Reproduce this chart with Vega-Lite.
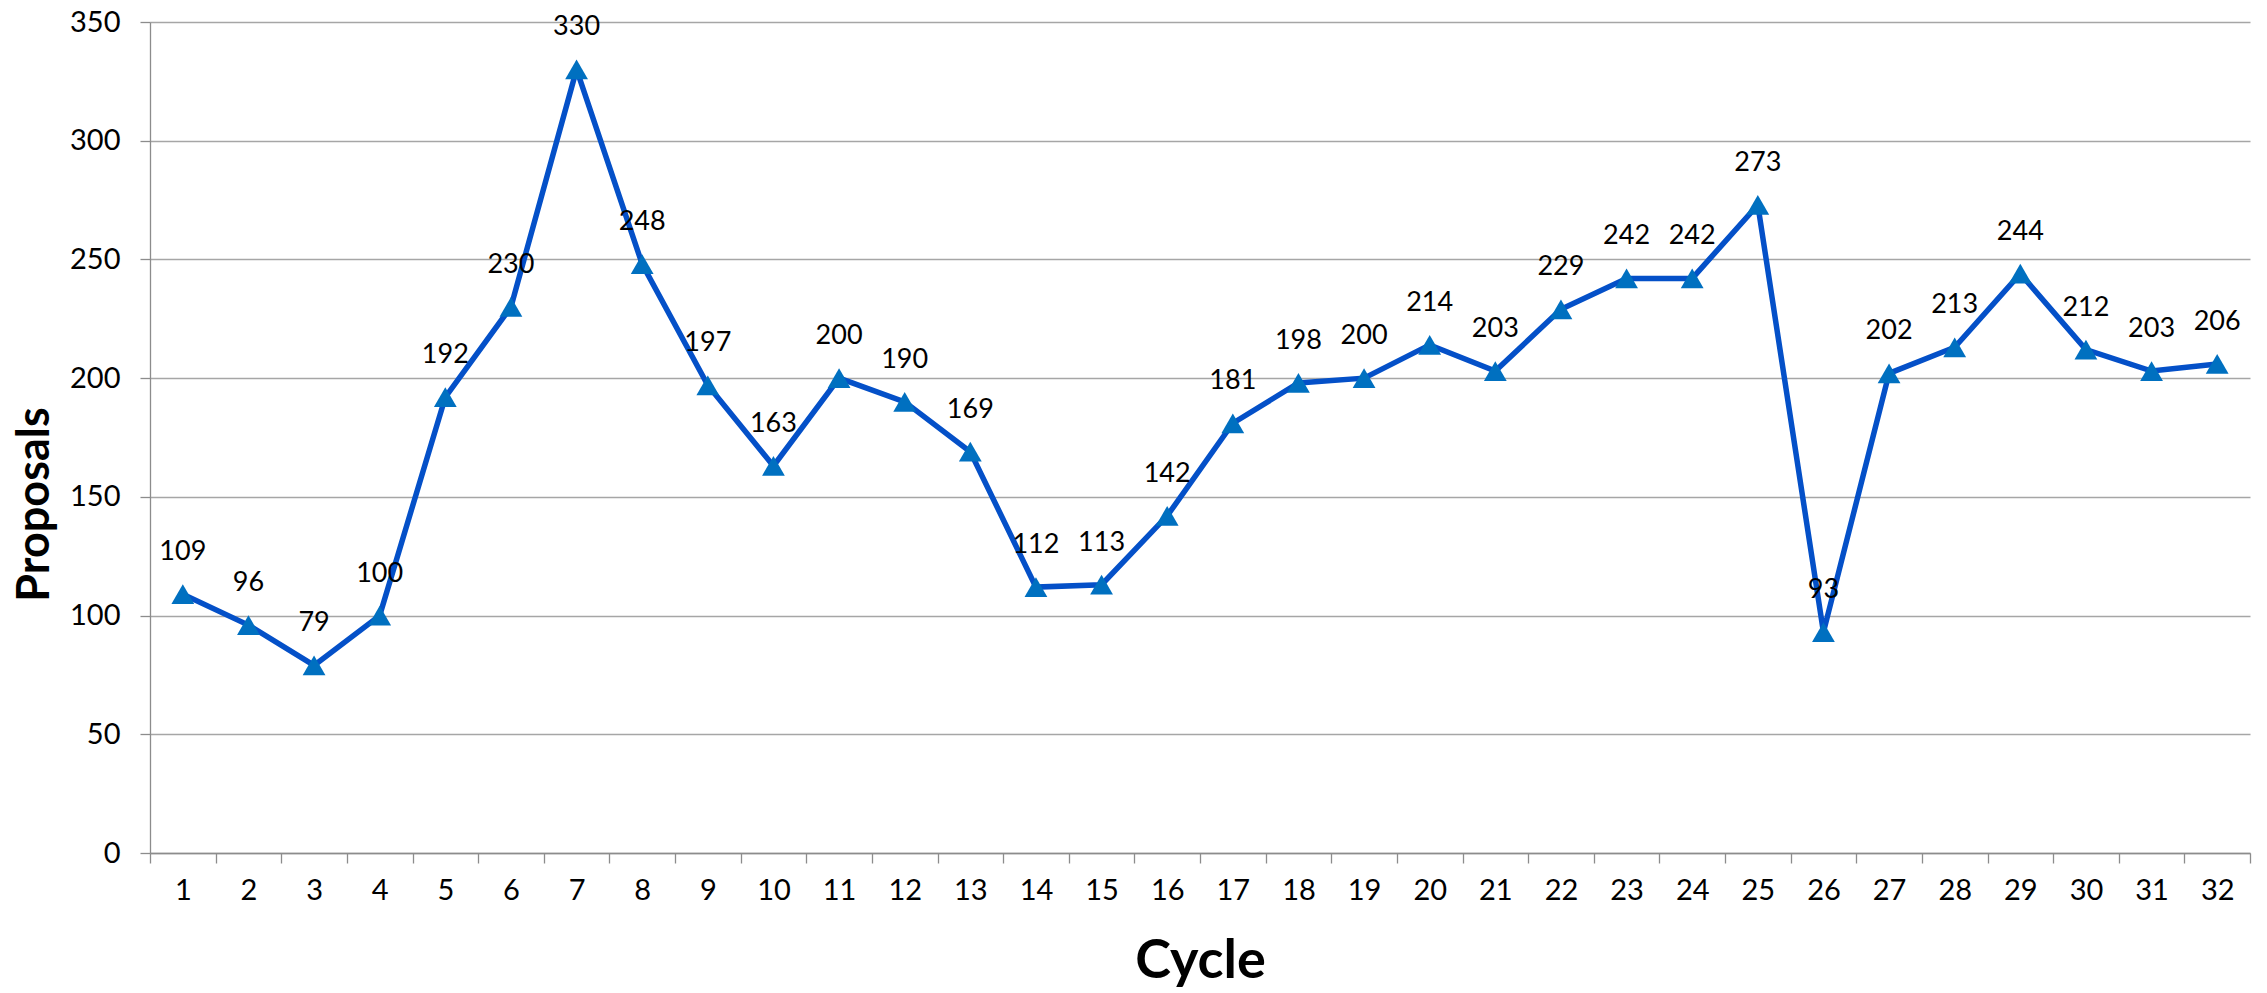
{
  "$schema": "https://vega.github.io/schema/vega-lite/v6.json",
  "width": 2100,
  "height": 831,
  "autosize": "none",
  "padding": {"left": 150, "top": 22, "right": 17, "bottom": 140},
  "background": "white",
  "config": {
    "view": {"stroke": null},
    "font": "Lato",
    "axis": {"labelFont": "Lato", "titleFont": "Lato"}
  },
  "data": {
    "values": [
      {"cycle": 1, "proposals": 109}, {"cycle": 2, "proposals": 96}, {"cycle": 3, "proposals": 79},
      {"cycle": 4, "proposals": 100}, {"cycle": 5, "proposals": 192}, {"cycle": 6, "proposals": 230},
      {"cycle": 7, "proposals": 330}, {"cycle": 8, "proposals": 248}, {"cycle": 9, "proposals": 197},
      {"cycle": 10, "proposals": 163}, {"cycle": 11, "proposals": 200}, {"cycle": 12, "proposals": 190},
      {"cycle": 13, "proposals": 169}, {"cycle": 14, "proposals": 112}, {"cycle": 15, "proposals": 113},
      {"cycle": 16, "proposals": 142}, {"cycle": 17, "proposals": 181}, {"cycle": 18, "proposals": 198},
      {"cycle": 19, "proposals": 200}, {"cycle": 20, "proposals": 214}, {"cycle": 21, "proposals": 203},
      {"cycle": 22, "proposals": 229}, {"cycle": 23, "proposals": 242}, {"cycle": 24, "proposals": 242},
      {"cycle": 25, "proposals": 273}, {"cycle": 26, "proposals": 93}, {"cycle": 27, "proposals": 202},
      {"cycle": 28, "proposals": 213}, {"cycle": 29, "proposals": 244}, {"cycle": 30, "proposals": 212},
      {"cycle": 31, "proposals": 203}, {"cycle": 32, "proposals": 206}
    ]
  },
  "encoding": {
    "x": {
      "field": "cycle",
      "type": "ordinal",
      "scale": {"type": "band", "paddingInner": 0, "paddingOuter": 0},
      "axis": {
        "title": "Cycle",
        "titleFontSize": 54,
        "titleFontWeight": "bold",
        "titleColor": "black",
        "titleX": 1050,
        "titleY": 124,
        "titleAlign": "center",
        "titleBaseline": "alphabetic",
        "labelAngle": 0,
        "labelFontSize": 29,
        "labelColor": "black",
        "labelPadding": 13,
        "tickBand": "extent",
        "tickSize": 10,
        "tickColor": "#8c8c8c",
        "tickWidth": 1.3,
        "domainColor": "#8c8c8c",
        "domainWidth": 1.3,
        "grid": false
      }
    },
    "y": {
      "field": "proposals",
      "type": "quantitative",
      "scale": {"domain": [0, 350], "nice": false},
      "axis": {
        "title": "Proposals",
        "titleFontSize": 45,
        "titleFontWeight": "bold",
        "titleColor": "black",
        "titleAngle": 270,
        "titleX": -102,
        "titleY": 482,
        "titleAlign": "center",
        "titleBaseline": "alphabetic",
        "values": [0, 50, 100, 150, 200, 250, 300, 350],
        "labelFontSize": 29,
        "labelColor": "black",
        "labelPadding": 20,
        "tickSize": 10,
        "tickColor": "#8c8c8c",
        "tickWidth": 1.3,
        "domainColor": "#8c8c8c",
        "domainWidth": 1.3,
        "grid": true,
        "gridColor": "#a6a6a6",
        "gridWidth": 1.3
      }
    }
  },
  "layer": [
    {"mark": {"type": "line", "color": "#0450C8", "strokeWidth": 5.5}},
    {"mark": {"type": "point", "shape": "triangle-up", "filled": true, "size": 520, "color": "#0070C0", "opacity": 1}},
    {
      "mark": {"type": "text", "dy": -42, "baseline": "middle", "align": "center", "fontSize": 27, "color": "black", "font": "Lato"},
      "encoding": {"text": {"field": "proposals", "type": "quantitative"}}
    }
  ]
}
